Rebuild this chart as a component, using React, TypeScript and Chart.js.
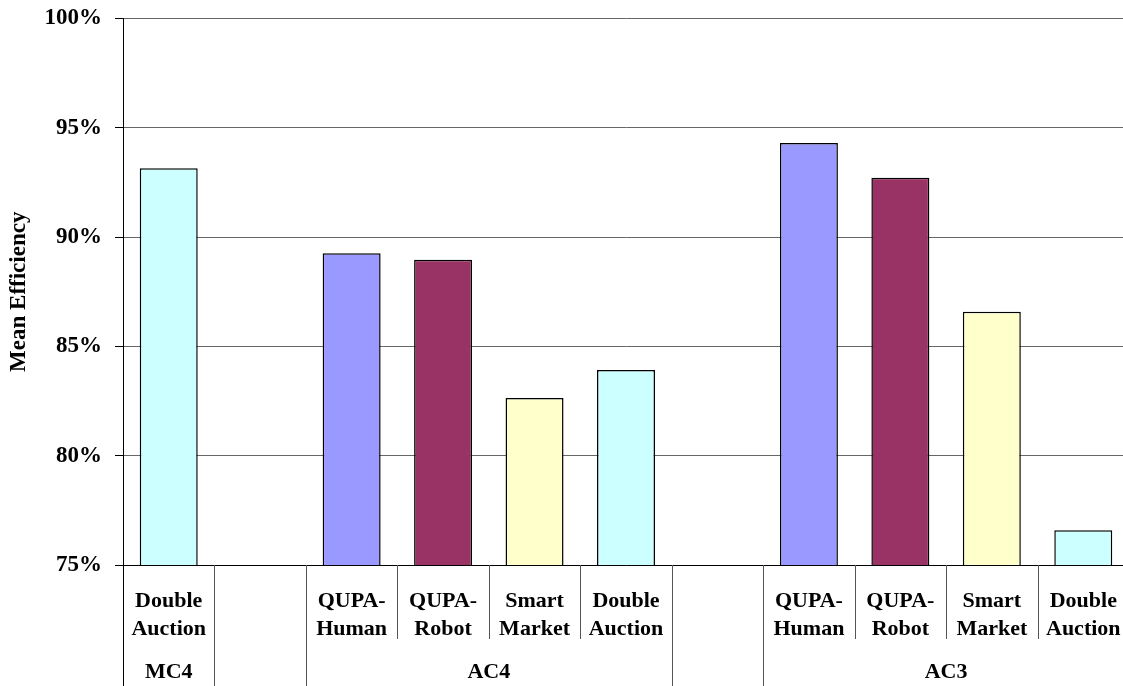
import React, { useEffect, useRef } from "react";
import { Chart, registerables } from "chart.js";

Chart.register(...registerables);

// Category slots along the x axis (empty slots are spacers between groups)
const categoryLabels: string[][] = [
  ["Double", "Auction"],
  [],
  ["QUPA-", "Human"],
  ["QUPA-", "Robot"],
  ["Smart", "Market"],
  ["Double", "Auction"],
  [],
  ["QUPA-", "Human"],
  ["QUPA-", "Robot"],
  ["Smart", "Market"],
  ["Double", "Auction"],
];

// Second-level grouping under the categories
const groupLabels: string[] = ["MC4", "", "AC4", "", "AC3"];
const groupSizes: number[] = [1, 1, 4, 1, 4];

// Mean efficiency (%) per slot
const meanEfficiency: (number | null)[] = [
  93.15, null, 89.26, 88.96, 82.64, 83.92, null, 94.31, 92.71, 86.58, 76.59,
];

const barColors: string[] = [
  "#CCFFFF", "#FFFFFF", "#9999FF", "#993366", "#FFFFCC", "#CCFFFF",
  "#FFFFFF", "#9999FF", "#993366", "#FFFFCC", "#CCFFFF",
];

const yTicks: number[] = [75, 80, 85, 90, 95, 100];

const FONT_FAMILY = "'Liberation Serif', 'Times New Roman', serif";

const axisLabelsPlugin = {
  id: "twoLevelAxis",
  afterDraw(chart: any) {
    const { ctx, chartArea, scales } = chart;
    const x = scales.x;
    const n = categoryLabels.length;
    const slot = (chartArea.right - chartArea.left) / n;
    const bottom = chartArea.bottom;
    const canvasH = chart.height;

    // group boundary indices
    const groupEdges = new Set<number>();
    let acc = 0;
    groupEdges.add(0);
    for (const s of groupSizes) {
      acc += s;
      groupEdges.add(acc);
    }

    ctx.save();
    // separators
    for (let i = 0; i <= n; i++) {
      const bx = Math.round(x.getPixelForValue(i) - slot / 2) + 0.5;
      const isGroup = groupEdges.has(i);
      ctx.beginPath();
      ctx.strokeStyle = i === 0 ? "#000000" : "#555555";
      ctx.lineWidth = 1;
      ctx.moveTo(bx, bottom);
      ctx.lineTo(bx, isGroup ? canvasH : bottom + 74);
      ctx.stroke();
    }

    // category labels
    ctx.fillStyle = "#000000";
    ctx.font = `bold 22px ${FONT_FAMILY}`;
    ctx.textAlign = "center";
    ctx.textBaseline = "alphabetic";
    categoryLabels.forEach((lines, i) => {
      const cx = x.getPixelForValue(i);
      lines.forEach((line, j) => {
        ctx.fillText(line, cx, bottom + 42 + j * 27.7);
      });
    });

    // group labels
    let start = 0;
    groupSizes.forEach((size, g) => {
      const left = x.getPixelForValue(start) - slot / 2;
      const right = x.getPixelForValue(start + size - 1) + slot / 2;
      if (groupLabels[g]) {
        ctx.fillText(groupLabels[g], (left + right) / 2, bottom + 113);
      }
      start += size;
    });
    ctx.restore();
  },
};

export default function App() {
  const canvasRef = useRef<HTMLCanvasElement | null>(null);

  useEffect(() => {
    if (!canvasRef.current) return;
    const chart = new Chart(canvasRef.current, {
      type: "bar",
      data: {
        labels: categoryLabels.map((l) => l.join(" ")),
        datasets: [
          {
            data: meanEfficiency as any,
            backgroundColor: barColors,
            borderColor: "#000000",
            borderWidth: 1.5,
            borderSkipped: false,
            barPercentage: 0.634,
            categoryPercentage: 1,
          },
        ],
      },
      options: {
        responsive: false,
        animation: false,
        layout: { padding: { top: 18.5, right: 2, left: 0, bottom: 0 } },
        plugins: {
          legend: { display: false },
          tooltip: { enabled: false },
        },
        scales: {
          x: {
            ticks: { display: false },
            grid: { display: false },
            border: { display: true, color: "#000000", width: 1 },
            afterFit(scale: any) {
              scale.height = 121;
            },
          },
          y: {
            min: 75,
            max: 100,
            afterBuildTicks(scale: any) {
              scale.ticks = yTicks.map((v) => ({ value: v }));
            },
            ticks: {
              padding: 13,
              color: "#000000",
              font: { family: FONT_FAMILY, size: 23, weight: "bold" },
              callback: (v: any) => `${v}%`,
            },
            grid: {
              color: "#666666",
              lineWidth: 1,
              tickLength: 8,
              tickColor: "#000000",
            },
            border: { display: true, color: "#000000", width: 1 },
            title: {
              display: true,
              text: "Mean Efficiency",
              color: "#000000",
              font: { family: FONT_FAMILY, size: 23, weight: "bold" },
              padding: { top: 5, bottom: 0 },
            },
            afterFit(scale: any) {
              scale.width = 123;
              scale.paddingTop = 0;
              scale.paddingBottom = 0;
            },
          },
        },
      },
      plugins: [axisLabelsPlugin],
    });
    return () => chart.destroy();
  }, []);

  return (
    <div
      style={{
        position: "fixed",
        left: 0,
        top: 0,
        width: 1123,
        height: 686,
        overflow: "hidden",
        background: "#ffffff",
      }}
    >
      <canvas
        ref={canvasRef}
        width={1131}
        height={686}
        style={{ width: 1131, height: 686, display: "block" }}
      />
    </div>
  );
}
